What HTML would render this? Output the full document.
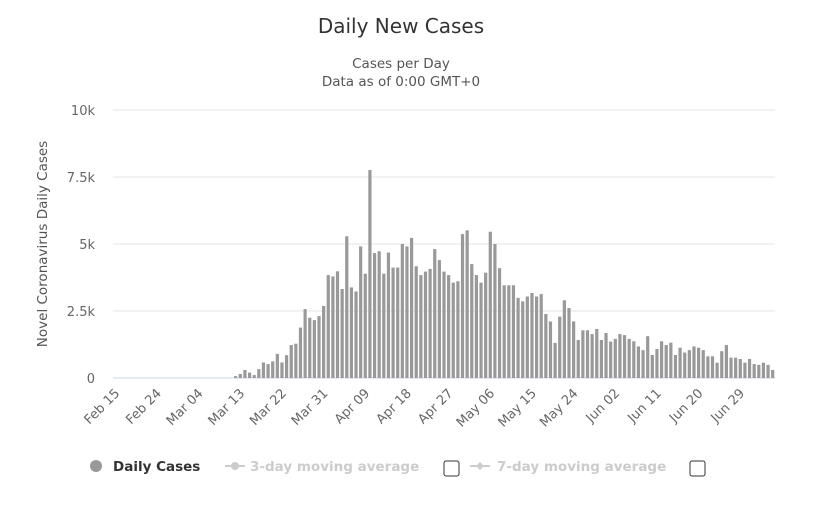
<!DOCTYPE html>
<html><head><meta charset="utf-8"><style>
body{margin:0;background:#fff;font-family:"DejaVu Sans","Liberation Sans",sans-serif;}
svg{display:block}
</style></head><body>
<svg width="828" height="507" id="c" font-family="DejaVu Sans, Liberation Sans, sans-serif">
<text x="401" y="33" text-anchor="middle" font-size="20" fill="#333">Daily New Cases</text>
<text x="401" y="68" text-anchor="middle" font-size="13.5" fill="#555">Cases per Day</text>
<text x="401" y="86" text-anchor="middle" font-size="13.5" fill="#555">Data as of 0:00 GMT+0</text>
<text transform="translate(47,244) rotate(-90)" text-anchor="middle" font-size="13.5" fill="#555">Novel Coronavirus Daily Cases</text>
<g id="grid"></g><g id="bars"></g><g id="xl"></g>
<g>
<g><circle cx="96" cy="466" r="6" fill="#999"/><text x="113" y="471" font-size="13.5" font-weight="bold" fill="#333">Daily Cases</text></g>
<g><line x1="225" y1="466" x2="245" y2="466" stroke="#ccc" stroke-width="2"/><circle cx="235" cy="466" r="4" fill="#ccc"/><text x="250" y="471" font-size="13.5" font-weight="bold" fill="#ccc">3-day moving average</text></g>
<rect x="444" y="461" width="15" height="15" rx="2" fill="#fff" stroke="#333"/>
<g><line x1="470" y1="466" x2="490" y2="466" stroke="#ccc" stroke-width="2"/><path d="M480 462 L484 466 L480 470 L476 466Z" fill="#ccc"/><text x="497" y="471" font-size="13.5" font-weight="bold" fill="#ccc">7-day moving average</text></g>
<rect x="690" y="461" width="15" height="15" rx="2" fill="#fff" stroke="#333"/>
</g>
</svg>
<script>
const yTicks=[0,2500,5000,7500,10000];
const yTickLabels=["0","2.5k","5k","7.5k","10k"];
const xTickLabels=["Feb 15","Feb 24","Mar 04","Mar 13","Mar 22","Mar 31","Apr 09","Apr 18","Apr 27","May 06","May 15","May 24","Jun 02","Jun 11","Jun 20","Jun 29"];
const zeroDays=26;
const cases=[70,150,300,200,110,330,580,520,620,900,580,850,1230,1280,1880,2570,2250,2160,2310,2690,3840,3790,3980,3320,5290,3380,3230,4910,3890,7760,4660,4730,3890,4680,4120,4120,5000,4910,5230,4170,
3840,3970,4070,4810,4400,3970,3840,3560,3610,5370,5510,4250,3840,3560,3930,5460,5000,4100,3460,3460,3460,2990,2860,3040,3170,3040,3130,2390,2110,1310,2290,2900,2610,2110,1420,1780,1780,1640,1830,1420,1680,1360,
1460,1640,1600,1460,1370,1180,1040,1560,860,1080,1370,1230,1320,860,1130,950,1040,1180,1130,1040,810,810,570,1000,1230,760,760,710,570,710,520,490,570,490,300];
const values=new Array(zeroDays).fill(0).concat(cases);
const NS="http://www.w3.org/2000/svg";
const X0=113,X1=775,Y0=378,Y1=110;
const n=values.length,step=(X1-X0)/n;
const xs=i=>X0+(i+0.5)*step;
const ys=v=>Y0-(v/10000)*(Y0-Y1);
function mk(t,a,p){const e=document.createElementNS(NS,t);for(const k in a)e.setAttribute(k,a[k]);p.appendChild(e);return e;}
const grid=document.getElementById('grid');
yTicks.forEach((v,i)=>{
  const l=mk('line',{x1:X0,x2:X1,y1:ys(v),y2:ys(v),stroke:i==0?'#ccd6eb':'#e6e6e6','stroke-width':1},grid);
  
  
  const t=mk('text',{x:95,y:ys(v)+5,'text-anchor':'end','font-size':13,fill:'#666'},grid);
  t.textContent=yTickLabels[i];
  
  
});
const bars=document.getElementById('bars');
values.forEach((v,i)=>{
  if(v<=0)return;
  const r=mk('rect',{x:xs(i)-1.6,y:ys(v),width:3.2,height:Y0-ys(v),fill:'#999'},bars);
  
  
});
const xl=document.getElementById('xl');
xTickLabels.forEach((s,k)=>{
  const x=xs(k*9)+5,y=394;
  const t=mk('text',{x:x,y:y,'text-anchor':'end','font-size':13,fill:'#666',transform:`rotate(-45 ${x} ${y})`},xl);
  t.textContent=s;
  
  
});
</script>
</body></html>
